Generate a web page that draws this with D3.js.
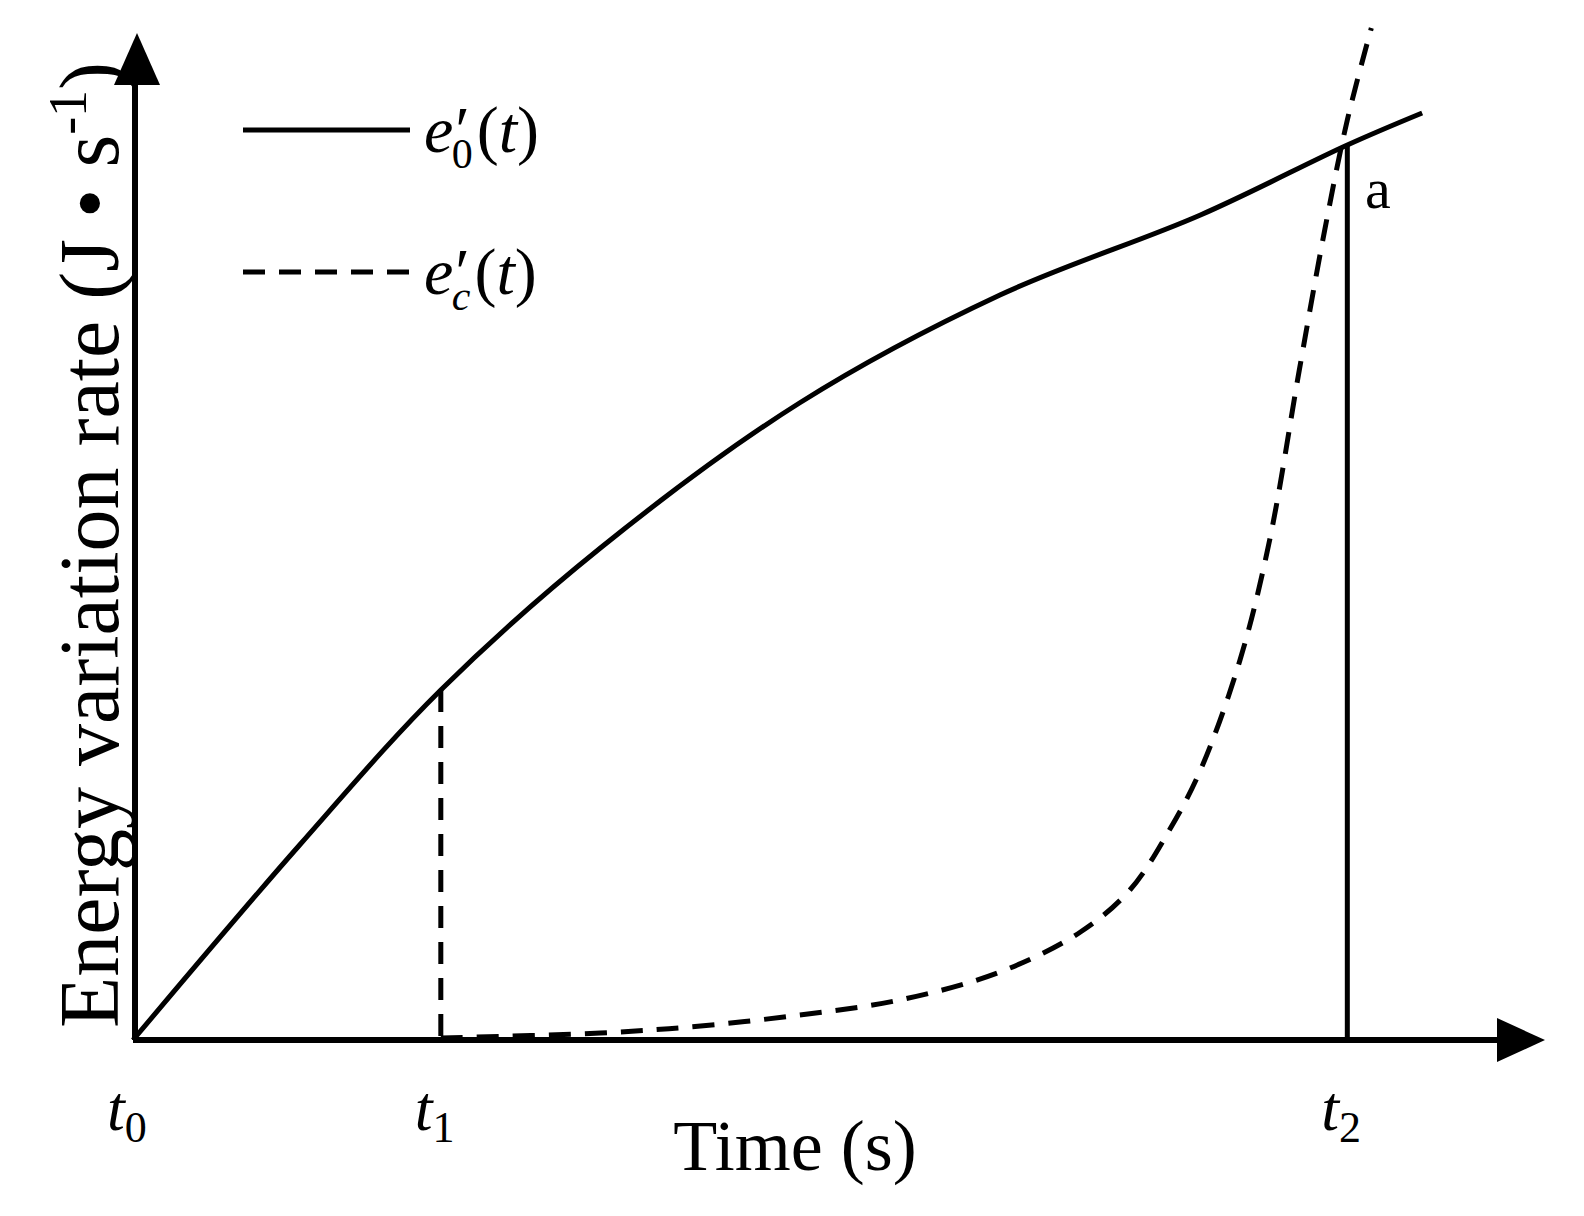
<!DOCTYPE html>
<html><head><meta charset="utf-8">
<script src="https://cdn.jsdelivr.net/npm/d3@7"></script>
<style>body{margin:0;background:#fff}text{font-family:"Liberation Serif","DejaVu Serif",serif;fill:#000}</style>
</head><body>
<script>
// solid curve e'_0(t)
const solidX = [0, 11.8, 21.8, 33.1, 47.2, 61.4, 75.6, 86, 91.3];
const solidY = [0, 19.5, 35, 49.2, 63.7, 74.5, 82.5, 89.5, 92.7];
// dashed curve e'_c(t)
const dashX = [21.8, 33.1, 40.2, 47.2, 54.3, 61.4, 67.1, 70.6, 73.4, 75.6, 78.4, 80.5, 82.6, 84.4, 86, 87.7];
const dashY = [0.2, 0.7, 1.4, 2.5, 4, 6.8, 10.8, 15, 21, 27, 38, 50, 67, 81, 92, 101.2];
const t1 = 21.8, t1Y = 35, t2 = 86, t2Y = 89.5;
const ticks = [{x: 0, s: "0"}, {x: t1, s: "1"}, {x: t2, s: "2"}];

const W = 1584, H = 1216;
const svg = d3.select("body").append("svg").attr("width", W).attr("height", H);
const x = d3.scaleLinear().domain([0, 100]).range([133, 1545]);
const y = d3.scaleLinear().domain([0, 100]).range([1040, 40]);

const line = d3.line().x(d => x(d[0])).y(d => y(d[1])).curve(d3.curveCatmullRom);
const stroke = 5;

svg.append("path").attr("d", line(d3.zip(solidX, solidY)))
  .attr("fill", "none").attr("stroke", "#000").attr("stroke-width", stroke);
svg.append("path").attr("d", line(d3.zip(dashX, dashY)))
  .attr("fill", "none").attr("stroke", "#000").attr("stroke-width", stroke).attr("stroke-dasharray", "22,14");

svg.append("line").attr("x1", x(t1)).attr("x2", x(t1)).attr("y1", y(t1Y)).attr("y2", y(0))
  .attr("stroke", "#000").attr("stroke-width", stroke).attr("stroke-dasharray", "22,14");
svg.append("line").attr("x1", x(t2)).attr("x2", x(t2)).attr("y1", y(t2Y)).attr("y2", y(0))
  .attr("stroke", "#000").attr("stroke-width", stroke);

// axes with arrows
svg.append("line").attr("x1", 133).attr("y1", 1040).attr("x2", 1505).attr("y2", 1040).attr("stroke", "#000").attr("stroke-width", 6);
svg.append("path").attr("d", "M1545,1040 L1497,1018 L1497,1062 Z");
svg.append("line").attr("x1", 135).attr("y1", 1040).attr("x2", 135).attr("y2", 75).attr("stroke", "#000").attr("stroke-width", 6);
svg.append("path").attr("d", "M137,33 L114,85 L160,85 Z");

// tick labels
ticks.forEach(t => {
  const g = svg.append("text").attr("x", x(t.x) - 26).attr("y", 1130).attr("font-size", 64);
  g.append("tspan").attr("font-style", "italic").text("t");
  g.append("tspan").attr("font-size", 44).attr("dy", 12).text(t.s);
});

svg.append("text").attr("x", 795).attr("y", 1170).attr("text-anchor", "middle").attr("font-size", 72).text("Time (s)");

const yl = svg.append("text").attr("transform", "translate(118,545) rotate(-90)")
  .attr("text-anchor", "middle").attr("font-size", 84);
yl.append("tspan").text("Energy variation rate (J • s");
yl.append("tspan").attr("font-size", 54).attr("dy", -32).text("-1");
yl.append("tspan").attr("dy", 32).text(")");

svg.append("text").attr("x", 1365).attr("y", 208).attr("font-size", 58).text("a");

// legend
const legend = [{y: 130, dash: null, sub: "0"}, {y: 272, dash: "22,14", sub: "c"}];
legend.forEach(l => {
  svg.append("line").attr("x1", 243).attr("x2", 410).attr("y1", l.y).attr("y2", l.y)
    .attr("stroke", "#000").attr("stroke-width", stroke).attr("stroke-dasharray", l.dash);
  const t = svg.append("text").attr("x", 424).attr("y", l.y + 22).attr("font-size", 66);
  t.append("tspan").attr("font-style", "italic").text("e");
  t.append("tspan").attr("font-style", "italic").attr("dx", -2).text("′");
  t.append("tspan").attr("font-size", 42).attr("font-style", l.sub === "c" ? "italic" : "normal").attr("dx", -14).attr("dy", 16).text(l.sub);
  t.append("tspan").attr("dy", -16).attr("dx", 4).text("(");
  t.append("tspan").attr("font-style", "italic").text("t");
  t.append("tspan").text(")");
});
</script>
</body></html>
